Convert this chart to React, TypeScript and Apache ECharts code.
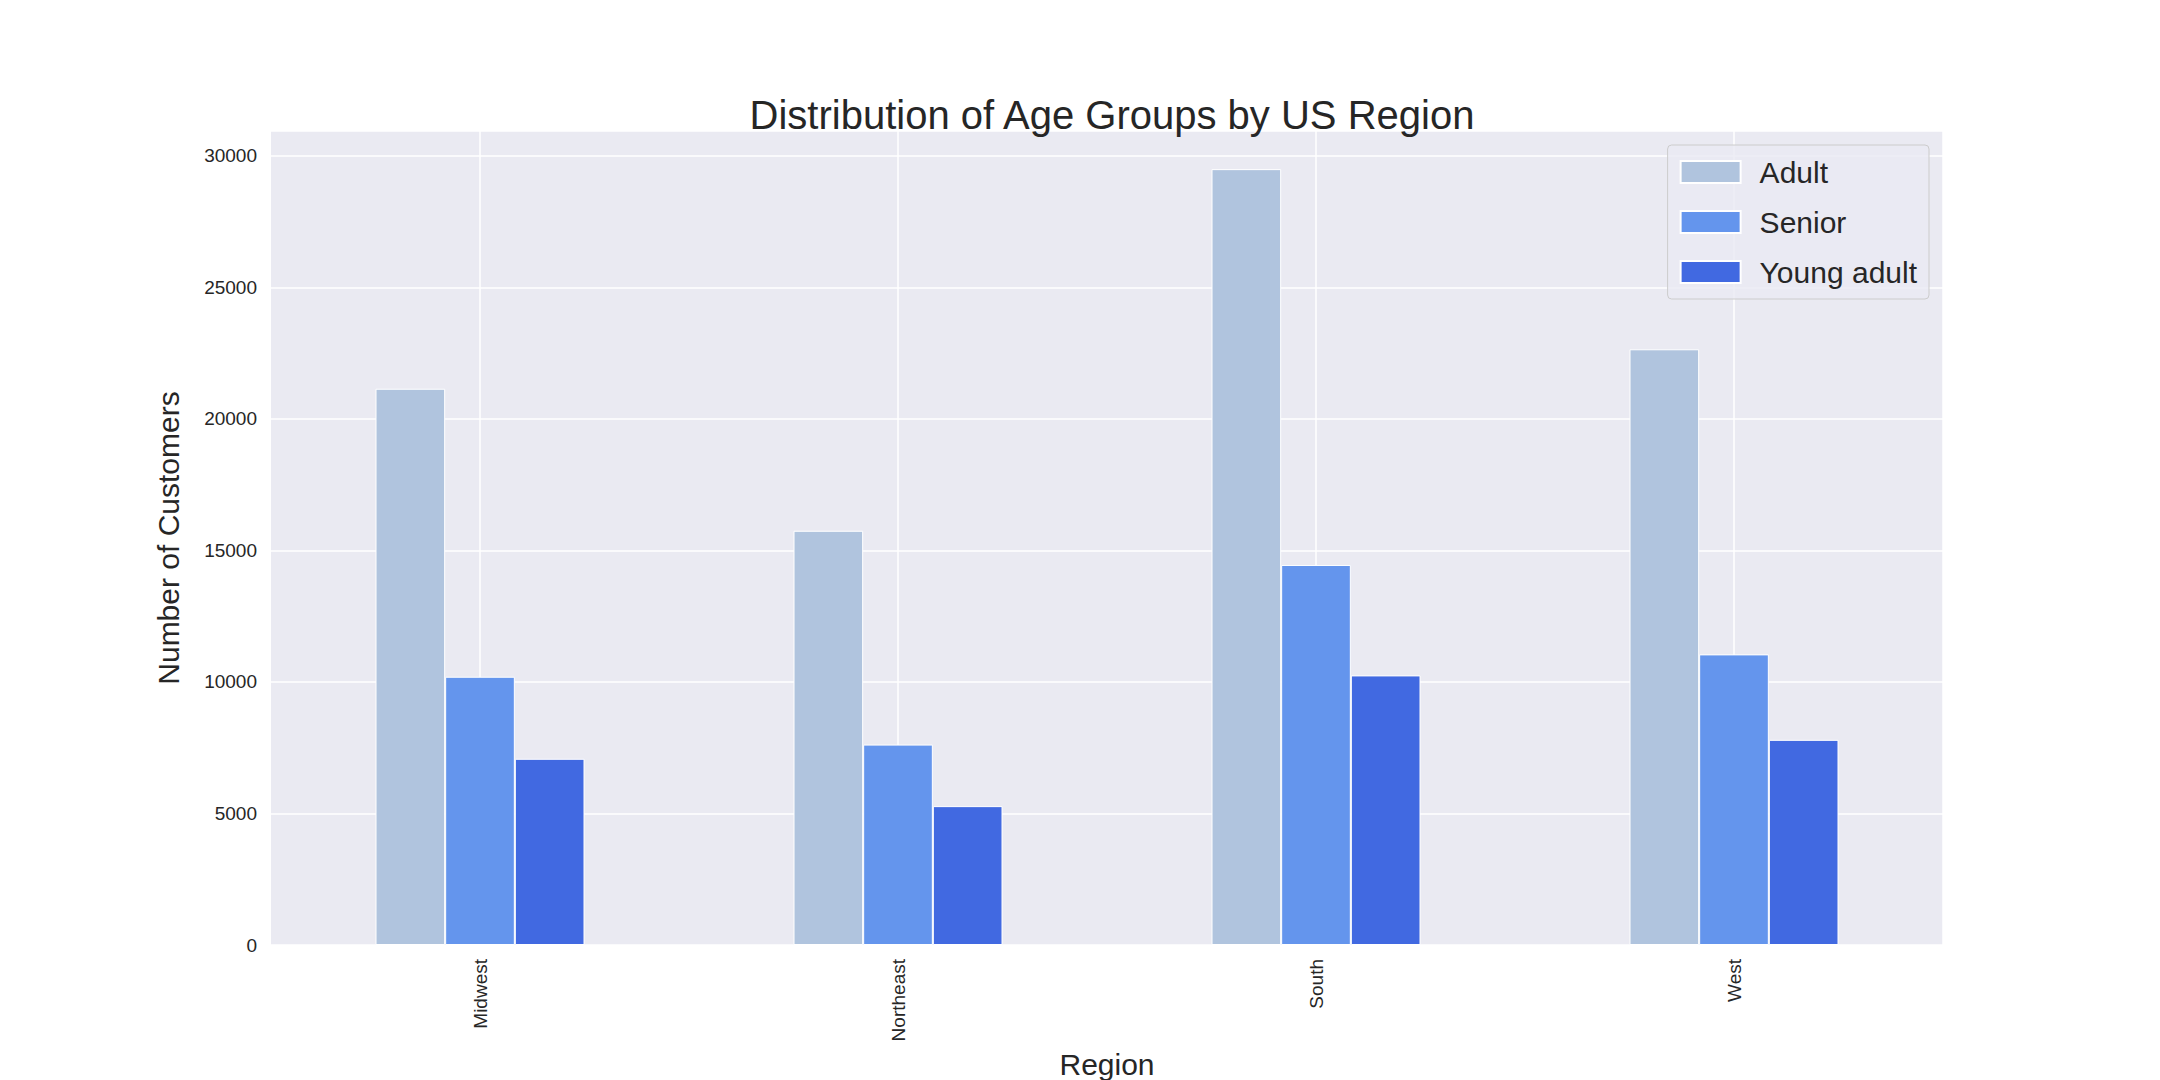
import * as echarts from "echarts";
import { useEffect, useRef } from "react";

const regions = ["Midwest", "Northeast", "South", "West"];
const adult = [21150, 15750, 29500, 22650];
const senior = [10200, 7620, 14450, 11050];
const youngAdult = [7080, 5280, 10250, 7800];
const yTicks = [0, 5000, 10000, 15000, 20000, 25000, 30000];

const App = () => {
  const ref = useRef<HTMLDivElement | null>(null);

  useEffect(() => {
    if (!ref.current) return;
    const chart = echarts.init(ref.current, undefined, { renderer: "svg" });
    const font = "Liberation Sans";
    const bar = (name: string, data: number[], color: string) => ({
      name,
      type: "bar",
      data,
      barGap: "0%",
      barCategoryGap: "50%",
      itemStyle: { color, borderColor: "#ffffff", borderWidth: 1 },
    });
    chart.setOption({
      animation: false,
      backgroundColor: "#ffffff",
      textStyle: { fontFamily: font },
      title: {
        text: "Distribution of Age Groups by US Region",
        left: 1107,
        textAlign: "center",
        top: 90,
        textStyle: { fontSize: 40, fontWeight: "normal", color: "#262626", fontFamily: font },
      },
      legend: {
        right: 231,
        top: 145,
        orient: "vertical",
        icon: "rect",
        itemWidth: 60,
        itemHeight: 22,
        itemGap: 20,
        padding: [12, 12, 12, 12],
        backgroundColor: "rgba(234,234,242,0.8)",
        borderColor: "#cccccc",
        borderWidth: 1,
        borderRadius: 4,
        textStyle: { fontSize: 30, color: "#262626", fontFamily: font, padding: [0, 0, 0, 14] },
      },
      grid: {
        left: 271,
        right: 217,
        top: 131,
        bottom: 135,
        backgroundColor: "#eaeaf2",
        show: true,
        borderWidth: 0,
        outerBoundsMode: "none",
        containLabel: false,
      },
      xAxis: [
        {
          type: "category",
          data: regions,
          name: "Region",
          nameLocation: "middle",
          nameGap: 100,
          nameTextStyle: { fontSize: 30, color: "#262626" },
          axisLine: { show: false },
          axisTick: { show: false },
          axisLabel: { rotate: 90, fontSize: 19, color: "#262626", margin: 14 },
          splitLine: { show: false },
        },
        {
          type: "category",
          data: ["", "", "", "", "", "", "", ""],
          position: "bottom",
          axisLine: { show: false },
          axisTick: { show: false },
          axisLabel: { show: false },
          splitLine: { show: true, interval: (i: number) => i % 2 === 1, lineStyle: { color: "#ffffff", width: 1.5 } },
        },
      ],
      yAxis: {
        type: "value",
        min: 0,
        max: 30950,
        interval: 5000,
        name: "Number of Customers",
        nameLocation: "middle",
        nameGap: 88,
        nameTextStyle: { fontSize: 30, color: "#262626" },
        axisLine: { show: false },
        axisTick: { show: false },
        axisLabel: {
          fontSize: 19,
          color: "#262626",
          margin: 14,
          formatter: (v: number) => (yTicks.includes(v) ? String(v) : ""),
        },
        splitLine: { lineStyle: { color: "#ffffff", width: 1.5 } },
      },
      series: [
        bar("Adult", adult, "#b0c4de"),
        bar("Senior", senior, "#6495ed"),
        bar("Young adult", youngAdult, "#4169e1"),
      ],
    });
    return () => chart.dispose();
  }, []);

  return <div ref={ref} style={{ position: "absolute", left: 0, top: 0, width: 2160, height: 1080 }} />;
};

export default App;
